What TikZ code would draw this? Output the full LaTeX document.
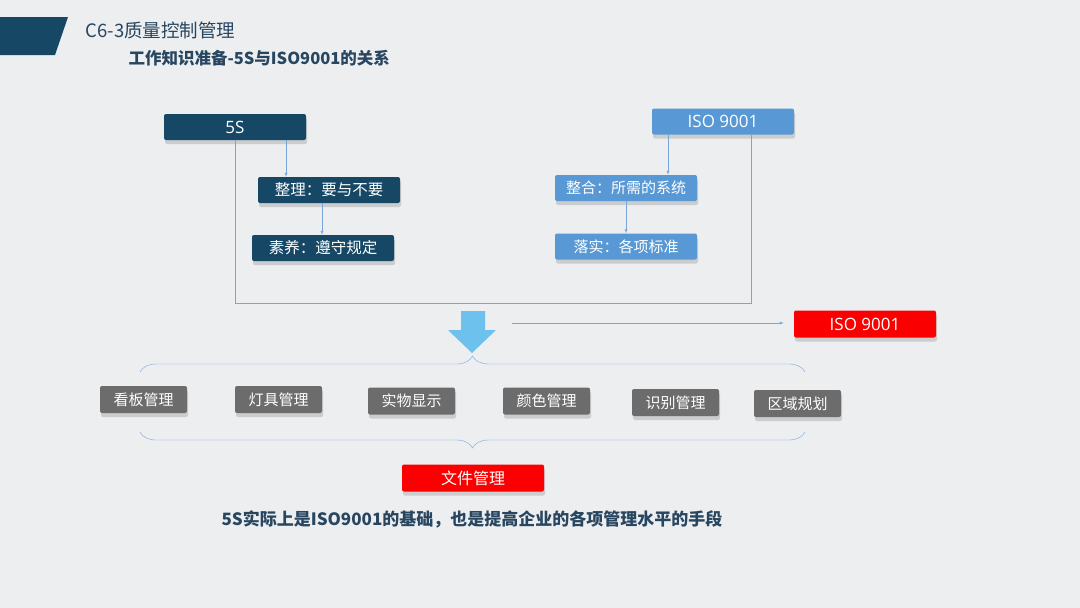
\documentclass[tikz,border=0pt]{standalone}
\usepackage{fontspec}
\setmainfont{Noto Sans CJK SC}
\newfontfamily\latinfont{Open Sans}
\usetikzlibrary{positioning,shadows,decorations.pathreplacing}

\definecolor{deepteal}{RGB}{22,72,102}
\definecolor{isoblue}{RGB}{88,152,212}
\definecolor{boxgray}{RGB}{108,108,108}
\definecolor{alarmred}{RGB}{250,0,0}
\definecolor{linkblue}{RGB}{120,166,218}
\definecolor{skyarrow}{RGB}{108,194,236}
\definecolor{slidebg}{RGB}{236,238,240}
\definecolor{headtext}{RGB}{40,70,95}

\begin{document}
\begin{tikzpicture}[x=1pt, y=-1pt]
	\tikzstyle{card} = [ rounded corners=2pt, inner sep=0pt, minimum height=26pt, text=white,
		drop shadow={shadow xshift=1pt, shadow yshift=-4pt, opacity=0.3} ];
	\tikzstyle{darkcard} = [ card, fill=deepteal, minimum width=142pt, font={\fontsize{15.5}{19}\selectfont} ];
	\tikzstyle{bluecard} = [ card, fill=isoblue, minimum width=142pt, font={\fontsize{15}{18}\selectfont} ];
	\tikzstyle{graycard} = [ card, fill=boxgray, minimum width=87pt, minimum height=27pt, font={\fontsize{15}{18}\selectfont} ];
	\tikzstyle{redcard} = [ card, fill=alarmred, minimum width=142pt, minimum height=27pt, font={\fontsize{16}{19}\selectfont} ];
	\tikzstyle{latintext} = [ font={\latinfont\fontsize{17}{20}\selectfont} ];
	\tikzstyle{pointer} = [ ->, >=latex, thin, linkblue ];
	\tikzstyle{link} = [ thin, linkblue ];
	\tikzstyle{brace} = [ thin, linkblue, decorate, decoration={brace, amplitude=16pt} ];

	% background and header
	\fill[slidebg] (0,0) rectangle (1080,608);
	\useasboundingbox (0,0) rectangle (1080,608);
	\fill[deepteal] (0,17) -- (68,17) -- (55,55) -- (0,55) -- cycle;
	\node[anchor=west, text=headtext, font={\fontsize{18.5}{22}\selectfont}] (title) at (82,30) {C6-3质量控制管理};
	\node[anchor=west, text=headtext, font={\fontsize{16.5}{20}\selectfont\bfseries}] (subtitle) at (125,58) {工作知识准备-5S与ISO9001的关系};

	% 5S side
	\node[darkcard, latintext] (fiveS) at (235,127) {5S};
	\node[darkcard] (tidy) at (329,190) {整理：要与不要};
	\node[darkcard] (discipline) at (323,248) {素养：遵守规定};
	\draw[pointer] ([xshift=51pt]fiveS.south) -- ([xshift=51pt]fiveS.south |- tidy.north);
	\draw[pointer] ([xshift=-7pt]tidy.south) -- ([xshift=-7pt]tidy.south |- discipline.north);

	% ISO side
	\node[bluecard, latintext] (iso) at (723,121.5) {ISO 9001};
	\node[bluecard] (integrate) at (626,188) {整合：所需的系统};
	\node[bluecard] (implement) at (626,246.5) {落实：各项标准};
	\draw[pointer] ([xshift=-55pt]iso.south) -- ([xshift=-55pt]iso.south |- integrate.north);
	\draw[pointer] (integrate.south) -- (implement.north);

	\draw[link] (fiveS.south) -- ++(0,163) -| ([xshift=28pt]iso.south);

	% result
	\fill[skyarrow] (461,311) -- (485,311) -- (485,330) -- (496,330) -- (472,353)
		-- (448,330) -- (461,330) -- cycle;
	\node[redcard, latintext] (isored) at (865,324) {ISO 9001};
	\coordinate (tail) at (512,323);
	\draw[pointer] (tail) -- ([xshift=-10pt]isored.west |- tail);

	\coordinate (braceL) at (140,372);
	\coordinate (braceR) at (805,372);
	\draw[brace] (braceL) -- (braceR);

	\foreach \name/\x/\y/\txt in {board/143.5/399.5/看板管理, lamp/278.5/399.5/灯具管理,
		item/411.5/401/实物显示, colour/546.5/401/颜色管理,
		mark/675.5/402.5/识别管理, zone/797.5/403.5/区域规划} {
		\node[graycard] (\name) at (\x,\y) {\txt};
	}

	\coordinate (braceBL) at (140,432);
	\coordinate (braceBR) at (805,432);
	\draw[brace] (braceBR) -- (braceBL);

	\node[redcard] (docs) at (473,478) {文件管理};
	\node[text=headtext, font={\fontsize{17}{20}\selectfont\bfseries}] (summary) at (472,519)
		{5S实际上是ISO9001的基础，也是提高企业的各项管理水平的手段};
\end{tikzpicture}
\end{document}
